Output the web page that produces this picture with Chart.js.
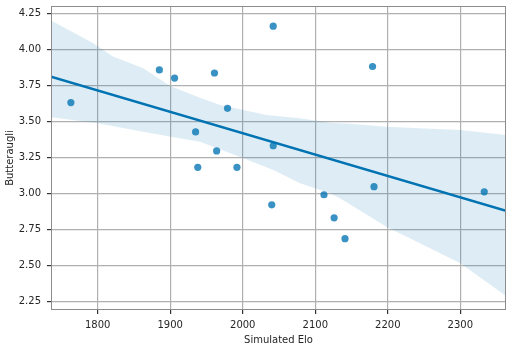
<!DOCTYPE html>
<html>
<head>
<meta charset="utf-8">
<script src="https://cdn.jsdelivr.net/npm/chart.js@4"></script>
<style>
  html, body { margin: 0; padding: 0; background: #fff; }
  #wrap { width: 512px; height: 348px; }
</style>
</head>
<body>
<div id="wrap"><canvas id="myChart"></canvas></div>
<script>
// scatter points
const elo = [1763, 1885, 1906, 1961, 1979, 1935, 1964, 1938, 1992, 2042, 2042, 2040, 2112, 2126, 2141, 2181, 2179, 2333]
const butter = [3.63, 3.856, 3.80, 3.835, 3.59, 3.426, 3.294, 3.18, 3.18, 4.16, 3.33, 2.92, 2.99, 2.83, 2.685, 3.046, 3.88, 3.01]

// regression line ends
const fitX = [1735.6, 2363]
const fitY = [3.81, 2.879]

// confidence band
const bandUpX = [1735.6, 1762, 1794, 1821, 1863, 1900, 1941, 1969, 2001, 2033, 2079, 2120, 2148, 2198, 2300, 2363]
const bandUpY = [4.199, 4.129, 4.042, 3.949, 3.868, 3.745, 3.663, 3.613, 3.578, 3.544, 3.521, 3.49, 3.482, 3.462, 3.44, 3.405]
const bandLoX = [1735.6, 1800, 1849, 1901, 1941, 2001, 2042, 2079, 2120, 2134, 2198, 2300, 2363]
const bandLoY = [3.528, 3.486, 3.44, 3.393, 3.358, 3.243, 3.162, 3.069, 3.0, 2.965, 2.768, 2.514, 2.288]

const xTicks = [1800, 1900, 2000, 2100, 2200, 2300]
const yTicks = [2.25, 2.50, 2.75, 3.00, 3.25, 3.50, 3.75, 4.00, 4.25]

const toPts = (xs, ys) => xs.map((x, i) => ({x: x, y: ys[i]}))

const blue = "#0173b2"
const font = {family: "DejaVu Sans", size: 10}

// matplotlib-style box around the plot
const frame = {
    id: "frame",
    afterDraw(chart) {
        const a = chart.chartArea
        const c = chart.ctx
        c.save()
        c.strokeStyle = "#8c8c8c"
        c.lineWidth = 1
        c.strokeRect(a.left + 0.5, a.top + 0.5, a.right - a.left - 1, a.bottom - a.top - 1)
        c.restore()
    }
}

let ctx = document.querySelector("#myChart").getContext("2d")

let chart = new Chart(ctx, {
    type: "scatter",
    data: {
        datasets: [{
            type: "line",
            data: toPts(bandUpX, bandUpY),
            borderWidth: 0,
            pointRadius: 0,
            backgroundColor: "rgba(1,115,178,0.13)",
            fill: "+1",
            order: 3
        }, {
            type: "line",
            data: toPts(bandLoX, bandLoY),
            borderWidth: 0,
            pointRadius: 0,
            fill: false,
            order: 3
        }, {
            type: "line",
            data: toPts(fitX, fitY),
            borderColor: blue,
            borderWidth: 2.5,
            pointRadius: 0,
            fill: false,
            order: 2
        }, {
            data: toPts(elo, butter),
            backgroundColor: "rgba(1,115,178,0.78)",
            borderWidth: 0,
            pointRadius: 3.6,
            order: 1
        }]
    },
    options: {
        responsive: true,
        maintainAspectRatio: false,
        animation: false,
        layout: {padding: {top: 6, right: 6, left: 0, bottom: 0}},
        plugins: {
            legend: {display: false},
            tooltip: {enabled: false}
        },
        scales: {
            x: {
                type: "linear",
                min: 1735.6,
                max: 2363,
                afterBuildTicks: s => { s.ticks = xTicks.map(v => ({value: v})) },
                afterFit: s => { s.height = 38; s.paddingLeft = 0; s.paddingRight = 0 },
                grid: {color: "#b0b0b0", lineWidth: 1.2, tickLength: 4, tickColor: "#333"},
                border: {display: false},
                ticks: {font: font, color: "#262626", padding: 5, maxRotation: 0, callback: v => String(v)},
                title: {display: true, text: "Simulated Elo", font: font, color: "#262626", padding: {top: 0, bottom: 2}}
            },
            y: {
                min: 2.19,
                max: 4.30,
                afterBuildTicks: s => { s.ticks = yTicks.map(v => ({value: v})) },
                afterFit: s => { s.width = 51; s.paddingTop = 0; s.paddingBottom = 0 },
                grid: {color: "#b0b0b0", lineWidth: 1.2, tickLength: 4, tickColor: "#333"},
                border: {display: false},
                ticks: {font: font, color: "#262626", padding: 6, callback: v => v.toFixed(2)},
                title: {display: true, text: "Butteraugli", font: font, color: "#262626", padding: {top: 4, bottom: 0}}
            }
        }
    },
    plugins: [frame]
})
</script>
</body>
</html>
